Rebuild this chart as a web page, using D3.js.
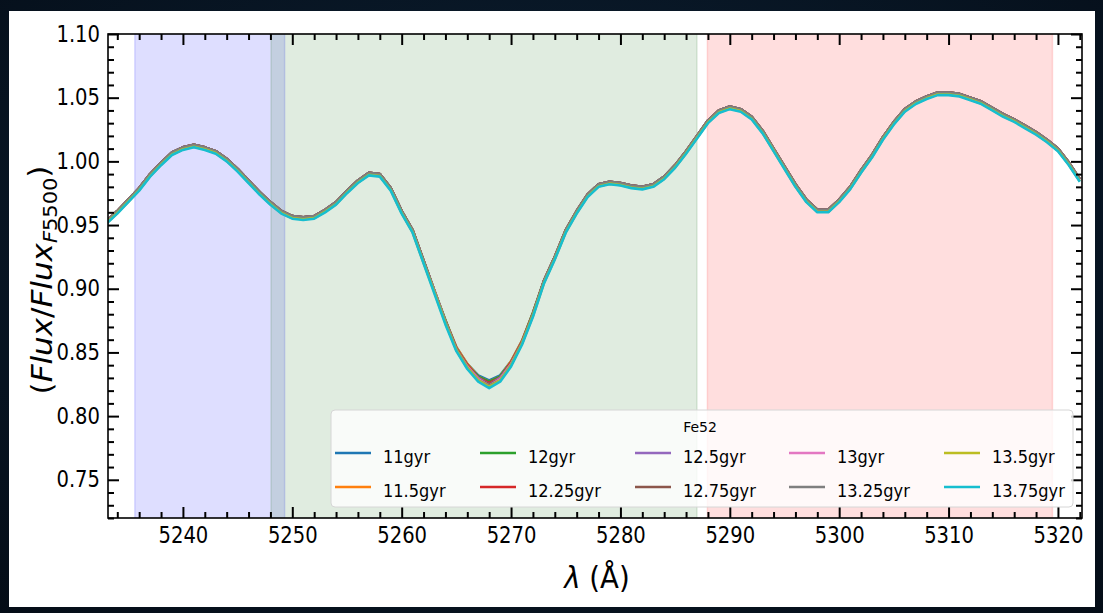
<!DOCTYPE html>
<html><head><meta charset="utf-8">
<script src="https://cdn.jsdelivr.net/npm/d3@7"></script>
<style>
html,body{margin:0;padding:0;width:1103px;height:613px;overflow:hidden;background:#06111c;}
svg{display:block;}
text{font-family:"DejaVu Sans",sans-serif;}
</style></head><body>
<svg id="c" width="1103" height="613"></svg>
<script>
// ---------------- data ----------------
const wavelength = [5233,5234,5235,5236,5237,5238,5239,5240,5241,5242,
 5243,5244,5245,5246,5247,5248,5249,5250,5251,5252,
 5253,5254,5255,5256,5257,5258,5259,5260,5261,5262,
 5263,5264,5265,5266,5267,5268,5269,5270,5271,5272,
 5273,5274,5275,5276,5277,5278,5279,5280,5281,5282,
 5283,5284,5285,5286,5287,5288,5289,5290,5291,5292,
 5293,5294,5295,5296,5297,5298,5299,5300,5301,5302,
 5303,5304,5305,5306,5307,5308,5309,5310,5311,5312,
 5313,5314,5315,5316,5317,5318,5319,5320,5321,5322];

const flux11 = [0.953,0.961,0.970,0.979,0.990,0.999,1.007,1.011,1.013,1.011,
 1.008,1.002,0.994,0.985,0.976,0.968,0.961,0.957,0.956,0.957,
 0.962,0.968,0.977,0.985,0.991,0.990,0.979,0.961,0.946,0.922,
 0.898,0.875,0.854,0.841,0.832,0.828,0.832,0.843,0.859,0.881,
 0.906,0.925,0.946,0.961,0.974,0.982,0.984,0.983,0.981,0.980,
 0.982,0.988,0.997,1.008,1.020,1.032,1.040,1.043,1.041,1.035,
 1.024,1.010,0.996,0.982,0.970,0.962,0.962,0.970,0.980,0.993,
 1.005,1.019,1.031,1.041,1.047,1.051,1.054,1.054,1.053,1.050,
 1.047,1.042,1.037,1.033,1.028,1.023,1.017,1.010,0.999,0.986];
const flux11_5 = [0.953,0.961,0.970,0.979,0.990,0.999,1.007,1.011,1.013,1.011,
 1.008,1.002,0.994,0.985,0.976,0.968,0.961,0.957,0.956,0.957,
 0.962,0.968,0.977,0.985,0.991,0.990,0.979,0.961,0.946,0.922,
 0.898,0.875,0.854,0.841,0.831,0.827,0.831,0.843,0.859,0.881,
 0.906,0.925,0.946,0.961,0.974,0.982,0.984,0.983,0.981,0.980,
 0.982,0.988,0.997,1.008,1.020,1.032,1.040,1.043,1.041,1.035,
 1.024,1.010,0.996,0.982,0.970,0.962,0.962,0.970,0.980,0.993,
 1.005,1.019,1.031,1.041,1.047,1.051,1.054,1.054,1.053,1.050,
 1.047,1.042,1.037,1.033,1.028,1.023,1.017,1.010,0.999,0.986];
const flux12 = [0.953,0.961,0.970,0.979,0.990,0.999,1.007,1.011,1.013,1.011,
 1.008,1.002,0.994,0.985,0.976,0.968,0.961,0.957,0.956,0.957,
 0.962,0.968,0.977,0.985,0.991,0.990,0.979,0.961,0.946,0.922,
 0.898,0.875,0.853,0.840,0.831,0.827,0.831,0.842,0.858,0.881,
 0.906,0.925,0.946,0.961,0.974,0.982,0.984,0.983,0.981,0.980,
 0.982,0.988,0.997,1.008,1.020,1.032,1.040,1.043,1.041,1.035,
 1.024,1.010,0.996,0.982,0.970,0.962,0.962,0.970,0.980,0.993,
 1.005,1.019,1.031,1.041,1.047,1.051,1.054,1.054,1.053,1.050,
 1.047,1.042,1.037,1.033,1.028,1.023,1.017,1.010,0.999,0.986];
const flux12_25 = [0.953,0.961,0.970,0.979,0.990,0.999,1.007,1.011,1.013,1.011,
 1.008,1.002,0.994,0.985,0.976,0.968,0.961,0.957,0.956,0.957,
 0.962,0.968,0.977,0.985,0.991,0.990,0.979,0.961,0.946,0.922,
 0.898,0.874,0.853,0.840,0.830,0.826,0.830,0.842,0.858,0.880,
 0.906,0.925,0.946,0.961,0.974,0.982,0.984,0.983,0.981,0.980,
 0.982,0.988,0.997,1.008,1.020,1.032,1.040,1.043,1.041,1.035,
 1.024,1.010,0.996,0.982,0.970,0.962,0.962,0.970,0.980,0.993,
 1.005,1.019,1.031,1.041,1.047,1.051,1.054,1.054,1.053,1.050,
 1.047,1.042,1.037,1.033,1.028,1.023,1.017,1.010,0.999,0.986];
const flux12_5 = [0.953,0.961,0.970,0.979,0.990,0.999,1.007,1.011,1.013,1.011,
 1.008,1.002,0.994,0.985,0.976,0.968,0.961,0.957,0.956,0.957,
 0.962,0.968,0.977,0.985,0.991,0.990,0.979,0.961,0.946,0.922,
 0.898,0.874,0.853,0.839,0.830,0.825,0.830,0.841,0.858,0.880,
 0.906,0.925,0.946,0.961,0.974,0.982,0.984,0.983,0.981,0.980,
 0.982,0.988,0.997,1.008,1.020,1.032,1.040,1.043,1.041,1.035,
 1.024,1.010,0.996,0.982,0.970,0.962,0.962,0.970,0.980,0.993,
 1.005,1.019,1.031,1.041,1.047,1.051,1.054,1.054,1.053,1.050,
 1.047,1.042,1.037,1.033,1.028,1.023,1.017,1.010,0.999,0.986];
const flux12_75 = [0.953,0.961,0.970,0.979,0.990,0.999,1.007,1.011,1.013,1.011,
 1.008,1.002,0.994,0.985,0.976,0.968,0.961,0.957,0.956,0.957,
 0.962,0.968,0.977,0.985,0.991,0.990,0.979,0.961,0.946,0.922,
 0.898,0.874,0.853,0.839,0.829,0.825,0.829,0.841,0.858,0.880,
 0.906,0.925,0.946,0.961,0.974,0.982,0.984,0.983,0.981,0.980,
 0.982,0.988,0.997,1.008,1.020,1.032,1.040,1.043,1.041,1.035,
 1.024,1.010,0.996,0.982,0.970,0.962,0.962,0.970,0.980,0.993,
 1.005,1.019,1.031,1.041,1.047,1.051,1.054,1.054,1.053,1.050,
 1.047,1.042,1.037,1.033,1.028,1.023,1.017,1.010,0.999,0.986];
const flux13 = [0.9515,0.9595,0.9685,0.9775,0.9885,0.9975,1.0055,1.0095,1.0115,1.0095,
 1.0065,1.0005,0.9925,0.9835,0.9745,0.9665,0.9595,0.9555,0.9545,0.9555,
 0.9605,0.9665,0.9755,0.9835,0.9895,0.9885,0.9775,0.9595,0.9445,0.9205,
 0.898,0.874,0.852,0.839,0.829,0.824,0.829,0.841,0.857,0.8785,
 0.9045,0.9235,0.9445,0.9595,0.9725,0.9805,0.9825,0.9815,0.9795,0.9785,
 0.9805,0.9865,0.9955,1.0065,1.0185,1.0305,1.0385,1.0415,1.0395,1.0335,
 1.0225,1.0085,0.9945,0.9805,0.9685,0.9605,0.9605,0.9685,0.9785,0.9915,
 1.0035,1.0175,1.0295,1.0395,1.0455,1.0495,1.0525,1.0525,1.0515,1.0485,
 1.0455,1.0405,1.0355,1.0315,1.0265,1.0215,1.0155,1.0085,0.9975,0.9845];
const flux13_25 = [0.953,0.961,0.970,0.979,0.990,0.999,1.007,1.011,1.013,1.011,
 1.008,1.002,0.994,0.985,0.976,0.968,0.961,0.957,0.956,0.957,
 0.962,0.968,0.977,0.985,0.991,0.990,0.979,0.961,0.946,0.922,
 0.898,0.874,0.852,0.838,0.828,0.824,0.828,0.840,0.857,0.880,
 0.906,0.925,0.946,0.961,0.974,0.982,0.984,0.983,0.981,0.980,
 0.982,0.988,0.997,1.008,1.020,1.032,1.040,1.043,1.041,1.035,
 1.024,1.010,0.996,0.982,0.970,0.962,0.962,0.970,0.980,0.993,
 1.005,1.019,1.031,1.041,1.047,1.051,1.054,1.054,1.053,1.050,
 1.047,1.042,1.037,1.033,1.028,1.023,1.017,1.010,0.999,0.986];
const flux13_5 = [0.9515,0.9595,0.9685,0.9775,0.9885,0.9975,1.0055,1.0095,1.0115,1.0095,
 1.0065,1.0005,0.9925,0.9835,0.9745,0.9665,0.9595,0.9555,0.9545,0.9555,
 0.9605,0.9665,0.9755,0.9835,0.9895,0.9885,0.9775,0.9595,0.9445,0.9205,
 0.897,0.873,0.852,0.838,0.828,0.823,0.828,0.840,0.857,0.879,
 0.9045,0.9235,0.9445,0.9595,0.9725,0.9805,0.9825,0.9815,0.9795,0.9785,
 0.9805,0.9865,0.9955,1.0065,1.0185,1.0305,1.0385,1.0415,1.0395,1.0335,
 1.0225,1.0085,0.9945,0.9805,0.9685,0.9605,0.9605,0.9685,0.9785,0.9915,
 1.0035,1.0175,1.0295,1.0395,1.0455,1.0495,1.0525,1.0525,1.0515,1.0485,
 1.0455,1.0405,1.0355,1.0315,1.0265,1.0215,1.0155,1.0085,0.9975,0.9845];
const flux13_75 = [0.951,0.959,0.968,0.977,0.988,0.997,1.005,1.009,1.011,1.009,
 1.006,1.000,0.992,0.983,0.974,0.966,0.959,0.955,0.954,0.955,
 0.960,0.966,0.975,0.983,0.989,0.988,0.977,0.959,0.944,0.920,
 0.896,0.872,0.851,0.837,0.827,0.822,0.827,0.839,0.856,0.878,
 0.904,0.923,0.944,0.959,0.972,0.980,0.982,0.981,0.979,0.978,
 0.980,0.986,0.995,1.006,1.018,1.030,1.038,1.041,1.039,1.033,
 1.022,1.008,0.994,0.980,0.968,0.960,0.960,0.968,0.978,0.991,
 1.003,1.017,1.029,1.039,1.045,1.049,1.052,1.052,1.051,1.048,
 1.045,1.040,1.035,1.031,1.026,1.021,1.015,1.008,0.997,0.984];

const ageLabels = ["11gyr","11.5gyr","12gyr","12.25gyr","12.5gyr","12.75gyr","13gyr","13.25gyr","13.5gyr","13.75gyr"];
const seriesValues = [flux11,flux11_5,flux12,flux12_25,flux12_5,flux12_75,flux13,flux13_25,flux13_5,flux13_75];
const seriesColors = ["#1f77b4","#ff7f0e","#2ca02c","#d62728","#9467bd","#8c564b","#e377c2","#7f7f7f","#bcbd22","#17becf"];

const blueBand = [5235.6, 5249.3];
const featureBand = [5248.05, 5287.0];
const redBand = [5287.95, 5319.5];

const xMajorTicks = [5240,5250,5260,5270,5280,5290,5300,5310,5320];
const yMajorTicks = [0.75,0.80,0.85,0.90,0.95,1.00,1.05,1.10];
const xDomain = [5233.15, 5322.2];
const yDomain = [0.72, 1.10];
const legendTitle = "Fe52";

// ---------------- layout ----------------
const svg = d3.select("#c");
const W = 1103, H = 613;
const M = {left:108, top:34, right:1082, bottom:518};
const pw = M.right - M.left, ph = M.bottom - M.top;

const defs = svg.append("defs");
const bg = defs.append("radialGradient").attr("id","bg").attr("cx","50%").attr("cy","40%").attr("r","80%");
bg.append("stop").attr("offset","0%").attr("stop-color","#0d2236");
bg.append("stop").attr("offset","100%").attr("stop-color","#040c16");
svg.append("rect").attr("width",W).attr("height",H).attr("fill","url(#bg)");
svg.append("rect").attr("x",9).attr("y",11).attr("width",1086).attr("height",596).attr("fill","#ffffff");

defs.append("clipPath").attr("id","clip").append("rect").attr("width",pw).attr("height",ph);

const g = svg.append("g").attr("transform",`translate(${M.left},${M.top})`);
const x = d3.scaleLinear().domain(xDomain).range([0,pw]);
const y = d3.scaleLinear().domain(yDomain).range([ph,0]);

// spans
const spans = [
  {b:blueBand, c:"rgba(0,0,255,0.13)"},
  {b:featureBand, c:"rgba(0,100,0,0.12)"},
  {b:redBand, c:"rgba(255,0,0,0.13)"}
];
const sg = g.append("g").attr("clip-path","url(#clip)");
sg.selectAll("rect.span").data(spans).join("rect")
  .attr("x",d=>x(d.b[0])).attr("width",d=>x(d.b[1])-x(d.b[0]))
  .attr("y",-2).attr("height",ph+4)
  .attr("fill",d=>d.c).attr("stroke",d=>d.c).attr("stroke-width",1.5);

// lines
const line = d3.line().x((d,i)=>x(wavelength[i])).y(d=>y(d));
const lg = g.append("g").attr("clip-path","url(#clip)");
lg.selectAll("path").data(seriesValues).join("path")
  .attr("d",d=>line(d)).attr("fill","none")
  .attr("stroke",(d,i)=>seriesColors[i]).attr("stroke-width",2.6)
  .attr("stroke-linejoin","round");

// axes
const xMinor = d3.range(5234, 5323, 2).filter(v=>v%10!==0);
const yMinor = d3.range(72, 111, 1).map(v=>v/100).filter(v=>Math.round(v*100)%5!==0);

function styleAxis(sel){
  sel.select(".domain").remove();
  sel.selectAll(".tick line").attr("stroke","#000").attr("stroke-width",2);
}
const tickFont = "22.5px";
const xa = g.append("g").attr("transform",`translate(0,${ph})`)
  .call(d3.axisBottom(x).tickValues(xMajorTicks).tickSize(-11).tickPadding(9).tickFormat(d3.format("d")));
styleAxis(xa);
xa.selectAll("text").attr("fill","#000").style("font-size",tickFont)
  .style("transform-box","fill-box").style("transform-origin","50% 50%").style("transform","scaleX(0.87)");
const xam = g.append("g").attr("transform",`translate(0,${ph})`)
  .call(d3.axisBottom(x).tickValues(xMinor).tickSize(-6).tickFormat(""));
styleAxis(xam);
const xt = g.append("g").call(d3.axisTop(x).tickValues(xMajorTicks).tickSize(-11).tickFormat(""));
styleAxis(xt);
const xtm = g.append("g").call(d3.axisTop(x).tickValues(xMinor).tickSize(-6).tickFormat(""));
styleAxis(xtm);

const ya = g.append("g")
  .call(d3.axisLeft(y).tickValues(yMajorTicks).tickSize(-11).tickPadding(8).tickFormat(d3.format(".2f")));
styleAxis(ya);
ya.selectAll("text").attr("fill","#000").style("font-size",tickFont)
  .style("transform-box","fill-box").style("transform-origin","100% 50%").style("transform","scaleX(0.87)");
const yam = g.append("g").call(d3.axisLeft(y).tickValues(yMinor).tickSize(-6).tickFormat(""));
styleAxis(yam);
const yr = g.append("g").attr("transform",`translate(${pw},0)`)
  .call(d3.axisRight(y).tickValues(yMajorTicks).tickSize(-11).tickFormat(""));
styleAxis(yr);
const yrm = g.append("g").attr("transform",`translate(${pw},0)`)
  .call(d3.axisRight(y).tickValues(yMinor).tickSize(-6).tickFormat(""));
styleAxis(yrm);

// frame
g.append("rect").attr("width",pw).attr("height",ph).attr("fill","none").attr("stroke","#000").attr("stroke-width",1.6);

// legend
const leg = svg.append("g");
leg.append("rect").attr("x",331).attr("y",410).attr("width",742).attr("height",97)
  .attr("rx",4).attr("fill","rgba(255,255,255,0.8)").attr("stroke","#d6d6d6").attr("stroke-width",1);
leg.append("text").attr("x",700).attr("y",432).attr("text-anchor","middle")
  .style("font-size","14px").attr("fill","#000").text(legendTitle);
const colX = [335,480,635,789,944];
const rowY = [453,487];
ageLabels.forEach((lab,i)=>{
  const cx = colX[Math.floor(i/2)], cy = rowY[i%2];
  leg.append("line").attr("x1",cx).attr("x2",cx+36).attr("y1",cy).attr("y2",cy)
    .attr("stroke",seriesColors[i]).attr("stroke-width",2.6);
  leg.append("text").attr("x",cx+48).attr("y",cy+10).style("font-size","18px").attr("fill","#000")
    .style("transform-box","fill-box").style("transform-origin","0% 50%").style("transform","scaleX(0.9)")
    .text(lab);
});

// axis labels
const xl = svg.append("text").attr("x",597).attr("y",588).attr("text-anchor","middle")
  .style("font-size","30px").attr("fill","#000")
  .style("transform-box","fill-box").style("transform-origin","50% 50%").style("transform","scaleX(0.92)");
xl.append("tspan").style("font-style","italic").text("λ");
xl.append("tspan").text(" (Å)");

const yl = svg.append("text").attr("transform","translate(52,280) scale(0.92,1) rotate(-90)")
  .attr("text-anchor","middle").style("font-size","31px").attr("fill","#000");
yl.append("tspan").text("(");
yl.append("tspan").style("font-style","italic").text("Flux");
yl.append("tspan").text("/");
yl.append("tspan").style("font-style","italic").text("Flux");
yl.append("tspan").attr("dy","0.28em").style("font-size","21px").style("font-style","italic").text("F");
yl.append("tspan").style("font-size","21px").text("5500");
yl.append("tspan").attr("dy","-0.28em").text(")");
</script>
</body></html>
